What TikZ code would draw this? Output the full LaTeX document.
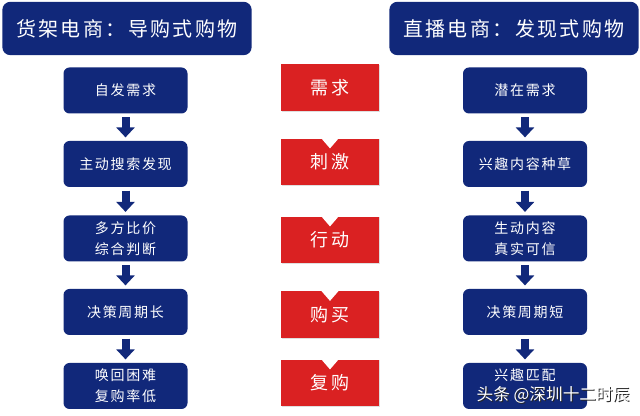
\documentclass[tikz,border=0pt]{standalone}
\usepackage{fontspec}
\newfontfamily\cjk[LetterSpace=12]{Noto Sans CJK SC}
\newfontfamily\wmfont{Noto Sans CJK SC}
\usetikzlibrary{arrows.meta,shadows}
\definecolor{navy}{RGB}{17,40,122}
\definecolor{bred}{RGB}{218,33,34}

\begin{document}
\begin{tikzpicture}[x=0.75pt,y=-0.75pt,
    hdr/.style={rectangle, rounded corners=6pt, fill=navy, text=white,
        minimum width=187pt, minimum height=40pt, font=\cjk\fontsize{15}{18}\selectfont},
    stage/.style={rectangle, rounded corners=4.5pt, fill=navy, text=white, align=center,
        minimum width=93pt, minimum height=34.5pt, font=\cjk\fontsize{10.5}{15.5}\selectfont},
    phase/.style={rectangle, fill=bred, text=white, minimum width=73.5pt, minimum height=35pt,
        font=\cjk\fontsize{13.5}{16}\selectfont,
        drop shadow={shadow xshift=0.6pt, shadow yshift=-0.6pt, opacity=0.25}},
    flow/.style={line width=6pt, navy, -{Triangle[width=13.5pt,length=7.5pt]},
        shorten <=2.5pt, shorten >=2.5pt}]

    \useasboundingbox (0,0) rectangle (640,416);

    % headers
    \node[hdr] (HL) at (127,28.5) {货架电商：导购式购物};
    \node[hdr] (HR) at (514,28.5) {直播电商：发现式购物};

    % shelf commerce
    \node[stage] (L1) at (125.5,90.5) {自发需求};
    \node[stage] (L2) at (125.5,164) {主动搜索发现};
    \node[stage] (L3) at (125.5,238.5) {多方比价\\综合判断};
    \node[stage] (L4) at (125.5,312) {决策周期长};
    \node[stage] (L5) at (125.5,386) {唤回困难\\复购率低};
    \draw[flow] (L1) -- (L2);
    \draw[flow] (L2) -- (L3);
    \draw[flow] (L3) -- (L4);
    \draw[flow] (L4) -- (L5);

    % live commerce
    \node[stage] (R1) at (525,90.5) {潜在需求};
    \node[stage] (R2) at (525,164) {兴趣内容种草};
    \node[stage] (R3) at (525,238.5) {生动内容\\真实可信};
    \node[stage] (R4) at (525,312) {决策周期短};
    \node[stage] (R5) at (525,386) {兴趣匹配\\\phantom{复购率高}};
    \draw[flow] (R1) -- (R2);
    \draw[flow] (R2) -- (R3);
    \draw[flow] (R3) -- (R4);
    \draw[flow] (R4) -- (R5);

    % stages in the middle
    \node[phase] (P1) at (330,87.5) {需求};
    \node[phase] (P2) at (330,162) {刺激};
    \node[phase] (P3) at (330,240) {行动};
    \node[phase] (P4) at (330,314.5) {购买};
    \node[phase] (P5) at (330,383) {复购};
    \fill[white] ([xshift=-6.5pt]P2.north) -- ([xshift=6.5pt]P2.north) -- ([yshift=-7.5pt]P2.north) -- cycle;
    \fill[white] ([xshift=-6.5pt]P3.north) -- ([xshift=6.5pt]P3.north) -- ([yshift=-7.5pt]P3.north) -- cycle;
    \fill[white] ([xshift=-6.5pt]P4.north) -- ([xshift=6.5pt]P4.north) -- ([yshift=-7.5pt]P4.north) -- cycle;
    \fill[white] ([xshift=-6.5pt]P5.north) -- ([xshift=6.5pt]P5.north) -- ([yshift=-7.5pt]P5.north) -- cycle;

    % watermark
    \node[text=black!85, font=\wmfont\fontsize{12.5}{14}\selectfont] at (554,396) {头条 @深圳十二时辰};
    \node[text=white, font=\wmfont\fontsize{12.5}{14}\selectfont] (W) at (553,395) {头条 @深圳十二时辰};
\end{tikzpicture}
\end{document}
